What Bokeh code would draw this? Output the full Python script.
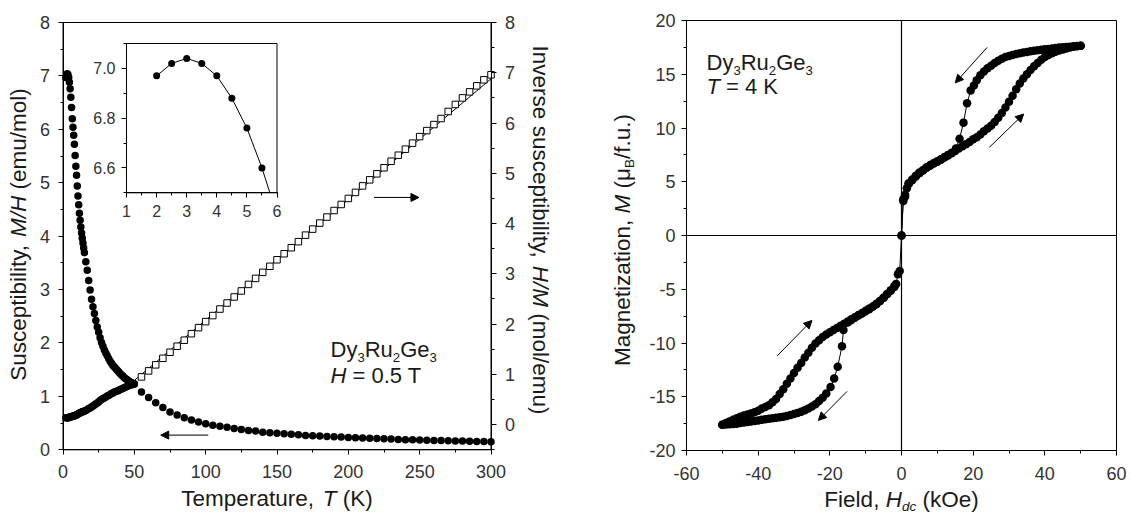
import math
from bokeh.plotting import figure
from bokeh.layouts import row
from bokeh.models import (Range1d, LinearAxis, SingleIntervalTicker, Label, Arrow,
                          NormalHead, PrintfTickFormatter)
from bokeh.embed import file_html
from bokeh.resources import INLINE

# ======================= DATA : left panel (H = 0.5 T) =======================
T_low = [2, 2.5, 3, 3.5, 4, 4.5, 5, 5.5, 6, 6.5, 7, 7.5, 8, 8.5, 9, 9.5, 10, 10.5,
         11, 11.5, 12, 12.5, 13, 13.5, 14, 14.5, 15,
         16, 17, 18, 19, 20, 21, 22, 23, 24, 25, 26, 27, 28, 29, 30, 31, 32, 33,
         34, 35, 36, 37, 38, 39, 40, 41, 42, 43, 44, 45, 46, 47, 48, 49, 50]
chi_low = [6.97, 7.02, 7.04, 7.02, 6.97, 6.88, 6.76, 6.60, 6.41, 6.20, 6.04, 5.89,
           5.72, 5.51, 5.31, 5.14, 4.94, 4.75, 4.59, 4.43, 4.30, 4.17, 4.06, 3.96,
           3.87, 3.78, 3.69,
           3.52, 3.36, 3.17, 2.99, 2.82, 2.68, 2.55, 2.42, 2.30, 2.20, 2.10, 2.01,
           1.94, 1.87, 1.81, 1.76, 1.71, 1.66, 1.62, 1.58, 1.55, 1.52, 1.49, 1.46,
           1.43, 1.40, 1.38, 1.35, 1.33, 1.31, 1.29, 1.27, 1.26, 1.24, 1.23]
inv_low = [0.14, 0.14, 0.14, 0.14, 0.14, 0.15, 0.15, 0.15, 0.16, 0.16, 0.17, 0.17,
           0.17, 0.18, 0.19, 0.19, 0.20, 0.21, 0.22, 0.23, 0.23, 0.24, 0.25, 0.25,
           0.26, 0.26, 0.27,
           0.28, 0.30, 0.32, 0.33, 0.35, 0.37, 0.39, 0.41, 0.43, 0.45, 0.48, 0.50,
           0.52, 0.53, 0.55, 0.57, 0.58, 0.60, 0.62, 0.63, 0.65, 0.66, 0.67, 0.68,
           0.70, 0.71, 0.72, 0.74, 0.75, 0.76, 0.78, 0.79, 0.79, 0.81, 0.81]
T_high = [55, 60, 65, 70, 75, 80, 85, 90, 95, 100, 105, 110, 115, 120, 125, 130,
          135, 140, 145, 150, 155, 160, 165, 170, 175, 180, 185, 190, 195, 200,
          205, 210, 215, 220, 225, 230, 235, 240, 245, 250, 255, 260, 265, 270,
          275, 280, 285, 290, 295, 300]
chi_high = [1.08, 0.98, 0.88, 0.79, 0.71, 0.65, 0.60, 0.56, 0.52, 0.49, 0.46, 0.44,
            0.42, 0.40, 0.38, 0.36, 0.35, 0.33, 0.32, 0.31, 0.30, 0.29, 0.28, 0.27,
            0.265, 0.26, 0.25, 0.245, 0.24, 0.23, 0.225, 0.22, 0.215, 0.21, 0.205,
            0.20, 0.195, 0.19, 0.187, 0.183, 0.18, 0.176, 0.172, 0.169, 0.166,
            0.163, 0.160, 0.157, 0.155, 0.152]
inv_high = [0.95, 1.07, 1.19, 1.32, 1.44, 1.56, 1.68, 1.81, 1.93, 2.05, 2.17, 2.30,
            2.42, 2.54, 2.66, 2.79, 2.91, 3.03, 3.15, 3.28, 3.40, 3.52, 3.64, 3.77,
            3.89, 4.01, 4.13, 4.26, 4.38, 4.50, 4.62, 4.75, 4.87, 4.99, 5.11, 5.24,
            5.36, 5.48, 5.60, 5.73, 5.85, 5.97, 6.09, 6.23, 6.37, 6.50, 6.62, 6.74,
            6.86, 6.96]
fit_T = [50, 300]
fit_inv = [0.88, 6.88]

TEMP_RANGE = (0, 300)
CHI_RANGE = (0, 8)
INV_RANGE = (-0.5, 8)
INSET_T_RANGE = (1, 6)
INSET_CHI_RANGE = (6.5, 7.1)
INSET_T_MAX = 6

chi_arrow = (101.8, 0.275, 68.5, 0.275)     # x_start, y_start, x_end, y_end
inv_arrow = (218.0, 4.52, 249.5, 4.52)

# ======================= DATA : right panel (T = 4 K) =======================
H_virgin = [0, 0.5, 1, 1.5, 2, 3, 4, 5, 6, 7, 8, 9, 10, 11, 12, 13, 14, 15, 16, 17,
            18, 19, 20, 21, 22, 23, 24, 25, 26, 27, 28, 29, 30, 31, 32, 33, 34, 35,
            36, 37, 38, 39, 40, 41, 42, 43, 44, 45, 46, 47, 48, 49, 50]
M_virgin = [0.0, 3.2, 3.6, 4.4, 4.8, 5.15, 5.5, 5.8, 6.05, 6.3, 6.5, 6.7, 6.85, 7.05,
            7.25, 7.45, 7.65, 7.85, 8.1, 8.3, 8.5, 8.7, 8.95, 9.15, 9.4, 9.7, 9.95,
            10.2, 10.55, 10.95, 11.4, 11.9, 12.45, 13.0, 13.6, 14.15, 14.6, 15.0,
            15.4, 15.75, 16.05, 16.35, 16.6, 16.8, 16.95, 17.1, 17.2, 17.3, 17.4,
            17.48, 17.55, 17.6, 17.65]
H_down = [50, 49, 48, 47, 46, 45, 44, 43, 42, 41, 40, 39, 38, 37, 36, 35, 34, 33, 32,
          31, 30, 29, 28, 27, 26, 25, 24, 23, 22, 21,
          20.2, 19.3, 18.3, 17.3, 16.2, 15.2,
          14, 13, 12, 11, 10, 9, 8, 7, 6, 5, 4, 3, 2, 1, 0.5, 0,
          -0.5, -1, -1.5, -2, -3, -4, -5, -6, -7, -8, -9, -10, -11, -12, -13, -14, -15,
          -16.2, -16.6, -17.8, -18.8, -19.8,
          -21, -22, -23, -24, -25, -26, -27, -28, -29, -30, -31, -32, -33, -34, -35,
          -36, -37, -38, -39, -40, -41, -42, -43, -44, -45, -46, -47, -48, -49, -50]
M_down = [17.65, 17.62, 17.6, 17.57, 17.54, 17.51, 17.48, 17.44, 17.4, 17.36, 17.32,
          17.28, 17.23, 17.18, 17.13, 17.08, 17.02, 16.95, 16.88, 16.8, 16.7, 16.6,
          16.45, 16.25, 16.05, 15.8, 15.55, 15.25, 14.9, 14.45,
          13.95, 13.5, 12.3, 10.5, 9.0, 8.1,
          7.7, 7.5, 7.3, 7.1, 6.9, 6.75, 6.55, 6.35, 6.1, 5.85, 5.55, 5.2, 4.85, 3.8,
          3.4, 0.0,
          -3.3, -3.6, -4.5, -4.8, -5.15, -5.45, -5.8, -6.1, -6.4, -6.6, -6.85, -7.05,
          -7.25, -7.45, -7.65, -7.85, -8.1,
          -8.8, -10.3, -12.2, -13.3, -14.1,
          -14.7, -15.1, -15.4, -15.7, -15.9, -16.1, -16.25, -16.4, -16.5, -16.6, -16.7,
          -16.8, -16.85, -16.9, -16.95, -17.0, -17.05, -17.1, -17.15, -17.2, -17.25,
          -17.3, -17.35, -17.4, -17.45, -17.5, -17.53, -17.56, -17.58, -17.6]
H_up = [-50, -49, -48, -47, -46, -45, -44, -43, -42, -41, -40, -39, -38, -37, -36,
        -35, -34, -33, -32, -31, -30, -29, -28, -27, -26, -25, -24, -23, -22, -21,
        -20, -19, -18, -17, -16, -15, -14, -13, -12, -11, -10, -9, -8, -7, -6, -5,
        -4, -3, -2]
M_up = [-17.6, -17.45, -17.3, -17.15, -17.0, -16.85, -16.75, -16.65, -16.55, -16.45,
        -16.3, -16.1, -15.95, -15.8, -15.5, -15.2, -14.75, -14.3, -13.8, -13.3, -12.8,
        -12.3, -11.85, -11.35, -10.9, -10.45, -10.05, -9.75, -9.45, -9.2, -9.0, -8.8,
        -8.6, -8.4, -8.2, -8.0, -7.8, -7.6, -7.4, -7.2, -7.0, -6.8, -6.6, -6.35, -6.1,
        -5.8, -5.45, -5.1, -4.7]
FIELD_RANGE = (-60, 60)
MAG_RANGE = (-20, 20)
loop_arrows = [(23.9, 17.5, 15.0, 14.2),
               (24.5, 8.2, 34.1, 11.3),
               (-34.7, -11.2, -25.0, -7.9),
               (-15.2, -14.5, -23.2, -17.2)]

# ======================= STYLE / LAYOUT =======================
FONT = "Liberation Sans"
TITLE_C = "#1a1a1a"
TICK_C = "#333333"
TITLE_SIZE = 22.5
TICK_SIZE = "18px"

L_W, R_W, H_ALL = 560, 571, 516
L_BOX = (62.5, 22, 490.5, 449.3)      # plot box: left, top, right, bottom (canvas px)
R_BOX = (126, 20, 556, 450)
INSET_BOX = (126, 43, 276.5, 192.3)

W = {' ': .278, ',': .278, '.': .278, '/': .278, '(': .333, ')': .333, '=': .584,
     '-': .333, 'A': .667, 'B': .667, 'C': .722, 'D': .722, 'E': .667, 'F': .611,
     'G': .778, 'H': .722, 'I': .278, 'K': .667, 'M': .833, 'O': .778, 'R': .722,
     'S': .667, 'T': .611, 'a': .556, 'b': .556, 'c': .5, 'd': .556, 'e': .556,
     'f': .278, 'g': .556, 'i': .222, 'k': .5, 'l': .222, 'm': .833, 'n': .556,
     'o': .556, 'p': .556, 'r': .333, 's': .5, 't': .278, 'u': .556, 'v': .5,
     'y': .5, 'z': .5, 'μ': .576}
MID = 0.35    # distance baseline -> text middle, in em


def text_w(s, size):
    return sum(W.get(c, .556) for c in s) * size


def x_range_for(box, vr, width):
    l, t, r, b = box
    s = (vr[1] - vr[0]) / (r - l)
    return Range1d(vr[0] - l * s, vr[1] + (width - r) * s)


def y_range_for(box, vr, height):
    l, t, r, b = box
    s = (vr[1] - vr[0]) / (b - t)
    return Range1d(vr[0] - (height - b) * s, vr[1] + t * s)


def add_rich(p, px, py, pieces, size, angle=0.0, center=False, color=TITLE_C,
             sub_drop=0.2):
    """Text made of pieces (normal / italic / subscript); px, py = canvas px of baseline."""
    def psize(k):
        return size * 0.6 if k.startswith("s") else size

    total = sum(text_w(t, psize(k)) for t, k in pieces)
    pos = -total / 2 if center else 0.0
    ca, sa = math.cos(angle), math.sin(angle)
    bx, by = px, H_ALL - py
    for t, k in pieces:
        s = psize(k)
        body = t.lstrip(" ")
        lead = text_w(t[:len(t) - len(body)], s)
        drop = (sub_drop * size if k.startswith("s") else 0.0) - MID * s
        along = pos + lead
        ox = bx + along * ca + drop * sa
        oy = by + along * sa - drop * ca
        if body.strip():
            p.add_layout(Label(x=p.x_range.start, y=p.y_range.start, x_offset=ox,
                               y_offset=oy, text=body, angle=angle, text_font=FONT,
                               text_font_size=f"{s:.1f}px",
                               text_font_style="italic" if "i" in k else "normal",
                               text_align="left", text_baseline="middle",
                               text_color=color))
        pos += text_w(t, s)


def make_axis(interval, fmt, fixed, bounds, size=TICK_SIZE, standoff=8, out=5, **rn):
    ax = LinearAxis(fixed_location=fixed, bounds=bounds, **rn)
    ax.ticker = SingleIntervalTicker(interval=interval, num_minor_ticks=2)
    ax.formatter = PrintfTickFormatter(format=fmt)
    ax.axis_line_color = "black"
    ax.major_tick_line_color = "black"
    ax.minor_tick_line_color = "black"
    ax.major_tick_out = out
    ax.major_tick_in = 0
    ax.minor_tick_out = 3
    ax.minor_tick_in = 0
    ax.major_label_text_font = FONT
    ax.major_label_text_font_size = size
    ax.major_label_text_color = TICK_C
    ax.major_label_standoff = standoff
    ax.axis_label = None
    return ax


def canvas_fig(width, box, xr, yr):
    p = figure(width=width, height=H_ALL,
               x_range=x_range_for(box, xr, width), y_range=y_range_for(box, yr, H_ALL),
               output_backend="svg", toolbar_location=None,
               x_axis_location=None, y_axis_location=None, min_border=0)
    p.min_border_left = p.min_border_right = p.min_border_top = p.min_border_bottom = 0
    p.xgrid.grid_line_color = None
    p.ygrid.grid_line_color = None
    p.outline_line_color = None
    p.background_fill_color = "white"
    p.border_fill_color = "white"
    p.quad(left=xr[0], right=xr[1], bottom=yr[0], top=yr[1], fill_color=None,
           line_color="black", line_width=1)
    return p


# ======================= LEFT PANEL =======================
p1 = canvas_fig(L_W, L_BOX, TEMP_RANGE, CHI_RANGE)
p1.extra_y_ranges = {"inv": y_range_for(L_BOX, INV_RANGE, H_ALL),
                     "iy": y_range_for(INSET_BOX, INSET_CHI_RANGE, H_ALL)}
p1.extra_x_ranges = {"ix": x_range_for(INSET_BOX, INSET_T_RANGE, L_W)}

p1.add_layout(make_axis(50, "%d", CHI_RANGE[0], TEMP_RANGE, standoff=10), "below")
p1.add_layout(make_axis(1, "%d", TEMP_RANGE[0], CHI_RANGE, standoff=8), "left")
p1.add_layout(make_axis(1, "%d", TEMP_RANGE[1], INV_RANGE, standoff=9,
                        y_range_name="inv"), "right")

p1.scatter(T_low, chi_low, size=7.5, marker="circle", fill_color="black", line_color=None)
p1.scatter(T_high, chi_high, size=7.5, marker="circle", fill_color="black", line_color=None)
p1.scatter(T_low, inv_low, size=7.5, marker="circle", fill_color="black", line_color=None,
           y_range_name="inv")
p1.line(fit_T, fit_inv, line_color="black", line_width=1, y_range_name="inv")
p1.scatter(T_high, inv_high, size=6.5, marker="square", fill_color="white",
           line_color="black", line_width=1, y_range_name="inv")

p1.add_layout(Arrow(end=NormalHead(size=8, fill_color="black", line_color="black"),
                    x_start=chi_arrow[0], y_start=chi_arrow[1],
                    x_end=chi_arrow[2], y_end=chi_arrow[3], line_width=1))
p1.add_layout(Arrow(end=NormalHead(size=8, fill_color="black", line_color="black"),
                    x_start=inv_arrow[0], y_start=inv_arrow[1],
                    x_end=inv_arrow[2], y_end=inv_arrow[3], line_width=1,
                    y_range_name="inv"))

# inset (T <= 6 K part of the same data)
ins_T = [t for t in T_low if t <= INSET_T_MAX]
ins_chi = chi_low[:len(ins_T)]
vis_T = [t for t, c in zip(ins_T, ins_chi) if c >= INSET_CHI_RANGE[0]]
vis_chi = ins_chi[:len(vis_T)]
line_T, line_chi = list(vis_T), list(vis_chi)
if len(vis_T) < len(ins_T):
    t0, c0 = ins_T[len(vis_T) - 1], ins_chi[len(vis_T) - 1]
    t1, c1 = ins_T[len(vis_T)], ins_chi[len(vis_T)]
    f = (c0 - INSET_CHI_RANGE[0]) / (c0 - c1)
    line_T.append(t0 + f * (t1 - t0))
    line_chi.append(INSET_CHI_RANGE[0])
p1.quad(left=INSET_T_RANGE[0], right=INSET_T_RANGE[1], bottom=INSET_CHI_RANGE[0],
        top=INSET_CHI_RANGE[1], fill_color="white", line_color="black", line_width=1,
        x_range_name="ix", y_range_name="iy")
p1.line(line_T, line_chi, line_color="black", line_width=1,
        x_range_name="ix", y_range_name="iy")
p1.scatter(vis_T, vis_chi, size=7, marker="circle", fill_color="black", line_color=None,
           x_range_name="ix", y_range_name="iy")
p1.add_layout(make_axis(1, "%d", INSET_CHI_RANGE[0], INSET_T_RANGE, size="16px",
                        standoff=7, x_range_name="ix", y_range_name="iy"), "below")
p1.add_layout(make_axis(0.2, "%.1f", INSET_T_RANGE[0], INSET_CHI_RANGE, size="16px",
                        standoff=6, x_range_name="ix", y_range_name="iy"), "left")

add_rich(p1, 26, 234, [("Susceptibility, ", "n"), ("M/H ", "i"), ("(emu/mol)", "n")],
         TITLE_SIZE, angle=math.pi / 2, center=True)
add_rich(p1, 532, 229.5, [("Inverse susceptibility, ", "n"), ("H/M ", "i"),
                          ("(mol/emu)", "n")], TITLE_SIZE, angle=-math.pi / 2, center=True)
add_rich(p1, 276.5, 506, [("Temperature, ", "n"), ("T ", "i"), ("(K)", "n")],
         TITLE_SIZE, center=True)
add_rich(p1, 330, 357, [("Dy", "n"), ("3", "s"), ("Ru", "n"), ("2", "s"),
                        ("Ge", "n"), ("3", "s")], 22)
add_rich(p1, 330, 383, [("H ", "i"), ("= 0.5 T", "n")], 22)

# ======================= RIGHT PANEL =======================
p2 = canvas_fig(R_W, R_BOX, FIELD_RANGE, MAG_RANGE)
p2.add_layout(make_axis(20, "%d", MAG_RANGE[0], FIELD_RANGE, standoff=11), "below")
p2.add_layout(make_axis(5, "%d", FIELD_RANGE[0], MAG_RANGE, standoff=6), "left")
p2.segment(x0=[0, FIELD_RANGE[0]], y0=[MAG_RANGE[0], 0], x1=[0, FIELD_RANGE[1]],
           y1=[MAG_RANGE[1], 0], line_color="black", line_width=1.2)

for hx, my in ((H_virgin, M_virgin), (H_down, M_down), (H_up, M_up)):
    p2.line(hx, my, line_color="black", line_width=1)
    p2.scatter(hx, my, size=8.5, marker="circle", fill_color="black", line_color=None)

for xs, ys, xe, ye in loop_arrows:
    p2.add_layout(Arrow(end=NormalHead(size=8, fill_color="black", line_color="black"),
                        x_start=xs, y_start=ys, x_end=xe, y_end=ye, line_width=1))

add_rich(p2, 69.5, 239.5, [("Magnetization, ", "n"), ("M ", "i"), ("(", "n"),
                           ("μ", "n"), ("B", "s"), ("/f.u.)", "n")],
         TITLE_SIZE, angle=math.pi / 2, center=True)
add_rich(p2, 341, 506.5, [("Field, ", "n"), ("H", "i"), ("dc", "si"), (" (kOe)", "n")],
         TITLE_SIZE, center=True, sub_drop=0.2)
add_rich(p2, 146, 70, [("Dy", "n"), ("3", "s"), ("Ru", "n"), ("2", "s"),
                       ("Ge", "n"), ("3", "s")], 22)
add_rich(p2, 146, 94, [("T ", "i"), ("= 4 K", "n")], 22)

layout = row(p1, p2)
open("out.html", "w").write(file_html(layout, INLINE))
